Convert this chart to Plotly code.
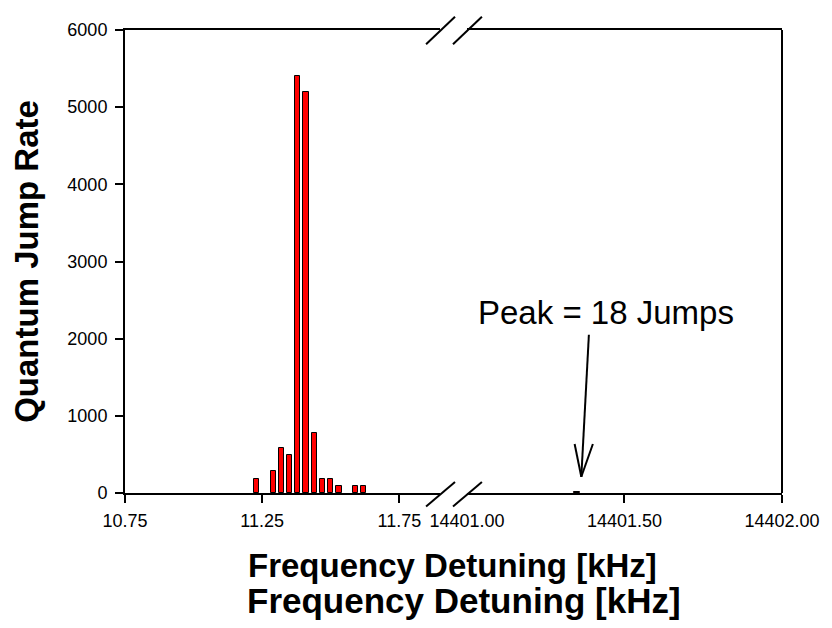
import plotly.graph_objects as go

# ---- data ----
left_freq = [11.23, 11.29, 11.32, 11.35, 11.38, 11.41, 11.44, 11.47, 11.50, 11.53, 11.59, 11.62]
left_rate = [180, 280, 580, 490, 5400, 5200, 780, 180, 180, 90, 90, 90]
right_freq = [14401.35]
right_rate = [18]

left_ticks = [10.75, 11.25, 11.75]
right_ticks = [14401.00, 14401.50, 14402.00]
y_ticks = [0, 1000, 2000, 3000, 4000, 5000, 6000]

FONT = "Liberation Sans, Arial, sans-serif"

# page offset from default body margin
OFF = 8
W, H = 832 - OFF, 628 - OFF
# plot area in page pixels (layout helpers only)
L, R, T, B = 124, 783, 20.5, 493.3
def px(x):
    return (x - L) / (R - L)
def py(y):
    return (B - y) / (B - T)

fig = go.Figure()
bar_style = dict(marker=dict(color="#ff0000", line=dict(color="black", width=1)), width=0.019, showlegend=False)
fig.add_trace(go.Bar(x=left_freq, y=left_rate, xaxis="x", yaxis="y", **bar_style))
fig.add_trace(go.Bar(x=right_freq, y=right_rate, xaxis="x2", yaxis="y", **bar_style))

axis_common = dict(showline=True, linewidth=2, linecolor="black", ticks="outside", ticklen=8,
                   tickwidth=2, tickcolor="black", showgrid=False, zeroline=False,
                   tickfont=dict(family=FONT, size=18, color="black"))

fig.update_layout(
    width=W, height=H,
    margin=dict(l=L - OFF, r=W - (R - OFF), t=T - OFF, b=H - (B - OFF)),
    plot_bgcolor="white", paper_bgcolor="white",
    bargap=0,
    xaxis=dict(domain=[0, px(440)], range=[10.75, 10.75 + (440 - L) / 275.2], tickvals=left_ticks,
               ticktext=[f"{v:.2f}" for v in left_ticks], mirror=True, anchor="y",
               ticklabelstandoff=2, **axis_common),
    xaxis2=dict(domain=[px(467), 1], range=[14401.0, 14402.0], tickvals=right_ticks,
                ticktext=[f"{v:.2f}" for v in right_ticks], mirror=True, anchor="y",
                ticklabelstandoff=2, **axis_common),
    yaxis=dict(range=[0, 6000], tickvals=y_ticks, ticktext=[str(v) for v in y_ticks], anchor="x",
               ticklabelstandoff=4,
               title=dict(text="<b>Quantum Jump Rate</b>", font=dict(family=FONT, size=33, color="black"),
                          standoff=24),
               **axis_common),
)

def seg(x0, y0, x1, y1, color="black", width=2):
    return dict(type="line", xref="paper", yref="paper", x0=px(x0), y0=py(y0), x1=px(x1), y1=py(y1),
                line=dict(color=color, width=width))

shapes = [
    # right frame border
    dict(type="line", xref="paper", yref="paper", x0=1, x1=1, y0=0, y1=1, line=dict(color="black", width=2)),
    # hide tick at 14401.00 under the break
    seg(467, 495, 467, 504, color="white", width=3),
]
for (x0, y0, x1, y1) in [(426, 35, 455, 7), (453, 35, 482, 7), (426, 507, 455, 482), (453, 507, 482, 482)]:
    shapes.append(seg(x0, y0, x1, y1))
# arrow pointing at the small peak
tip = (581.7, 476.7)
shapes.append(seg(589.3, 331.7, tip[0], tip[1]))
shapes.append(seg(575.0, 443.3, tip[0], tip[1]))
shapes.append(seg(593.3, 443.3, tip[0], tip[1]))
fig.update_layout(shapes=shapes)

fig.add_annotation(xref="paper", yref="paper", x=px(606.7), y=py(309), text="Peak = 18 Jumps",
                   showarrow=False, font=dict(family=FONT, size=33, color="black"),
                   xanchor="center", yanchor="middle")
fig.add_annotation(xref="paper", yref="paper", x=px(452), y=py(567), text="<b>Frequency Detuning [kHz]</b>",
                   showarrow=False, font=dict(family=FONT, size=33, color="black"),
                   xanchor="center", yanchor="middle")
fig.add_annotation(xref="paper", yref="paper", x=px(464), y=py(603), text="<b>Frequency Detuning [kHz]</b>",
                   showarrow=False, font=dict(family=FONT, size=35, color="black"),
                   xanchor="center", yanchor="middle")

fig.write_html("out.html")
